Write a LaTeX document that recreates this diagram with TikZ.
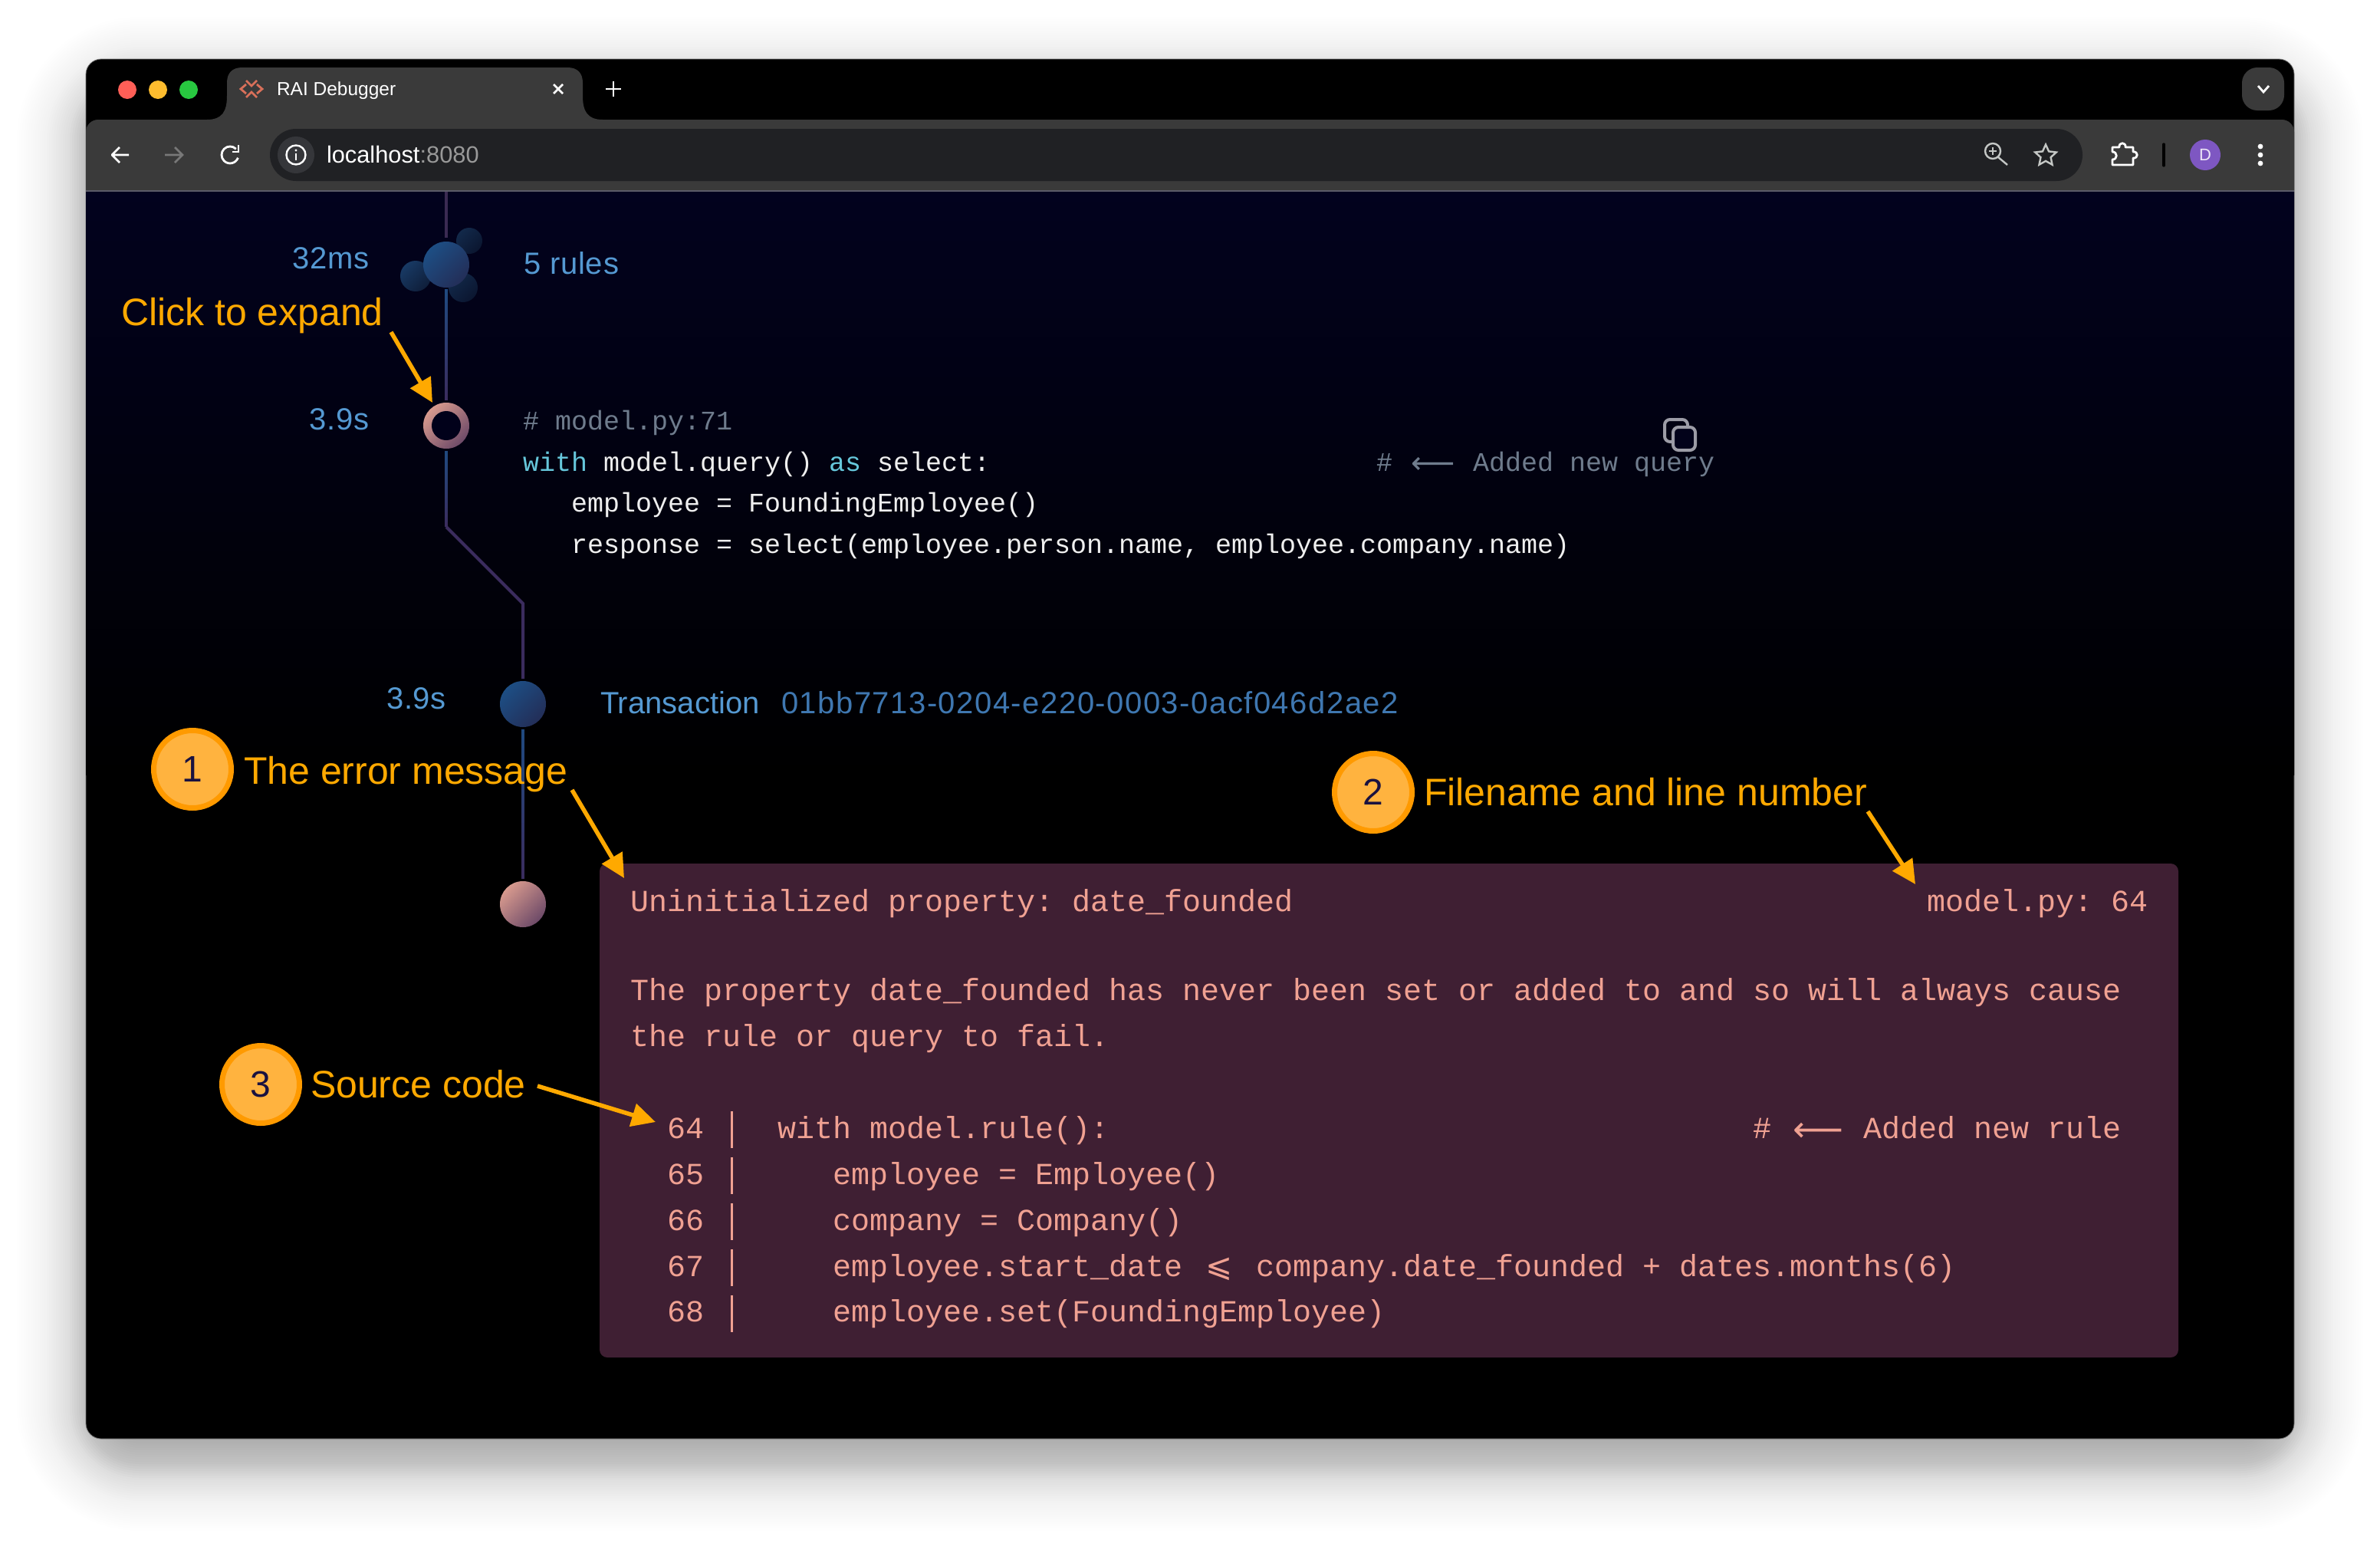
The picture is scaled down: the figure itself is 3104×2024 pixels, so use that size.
\documentclass[tikz,border=0pt]{standalone}
\usepackage{fontspec}
\setmainfont{Liberation Sans}
\setmonofont{Liberation Mono}
\newfontfamily\dvfont{DejaVu Sans}
\usetikzlibrary{arrows.meta,calc,shapes.geometric}
\definecolor{tbar}{HTML}{3A3A3A}
\definecolor{addr}{HTML}{202124}
\definecolor{infobg}{HTML}{35363A}
\definecolor{pagetop}{HTML}{02021E}
\definecolor{linepurple}{HTML}{3B2C5E}
\definecolor{linetop}{HTML}{3A2A52}
\definecolor{lineblue}{HTML}{1F4A80}
\definecolor{timeblue}{HTML}{5599D2}
\definecolor{idblue}{HTML}{3F77B0}
\definecolor{amber}{HTML}{FFA900}
\definecolor{amberrim}{HTML}{FF9A00}
\definecolor{amberfill}{HTML}{FFB33F}
\definecolor{digit}{HTML}{1A1240}
\definecolor{errbg}{HTML}{3F1F33}
\definecolor{errtext}{HTML}{F0A192}
\definecolor{kw}{HTML}{66C7DB}
\definecolor{codew}{HTML}{EFEFEF}
\definecolor{cmt}{HTML}{6F7C8D}
\definecolor{copyc}{HTML}{9C9CA6}
\definecolor{icon}{HTML}{C4C7C5}
\definecolor{fav}{HTML}{D9705A}
\definecolor{tlred}{HTML}{FF5F57}
\definecolor{tlamber}{HTML}{FEBC2E}
\definecolor{tlgreen}{HTML}{28C840}
\definecolor{avatarc}{HTML}{7E57C2}
\definecolor{divider}{HTML}{5B5B68}
\definecolor{holebg}{HTML}{01011A}
\definecolor{copybg}{HTML}{02021A}
\definecolor{satA}{HTML}{183A64}
\definecolor{satB}{HTML}{0F1E3A}
\definecolor{satC}{HTML}{12294A}
\definecolor{satD}{HTML}{0B1630}
\definecolor{blueA}{HTML}{1D4E84}
\definecolor{blueB}{HTML}{232E58}
\definecolor{pinkA}{HTML}{D89A8E}
\definecolor{pinkB}{HTML}{6D4A68}
\tikzset{
  every node/.style={inner sep=0pt,outer sep=0pt},
  uitext/.style={anchor=base west,text=white,font=\fontsize{12.25pt}{14pt}\selectfont},
  urltext/.style={anchor=base west,text=white,font=\fontsize{15.4pt}{18pt}\selectfont},
  timelabel/.style={anchor=base east,text=timeblue,font=\fontsize{20pt}{24pt}\selectfont\addfontfeature{LetterSpace=2}},
  bluelabel/.style={anchor=base west,text=timeblue,font=\fontsize{20pt}{24pt}\selectfont\addfontfeature{LetterSpace=2}},
  translabel/.style={anchor=base west,text=timeblue,font=\fontsize{20pt}{24pt}\selectfont},
  idlabel/.style={anchor=base west,text=idblue,font=\fontsize{20pt}{24pt}\selectfont\addfontfeature{LetterSpace=3.8}},
  note/.style={anchor=base west,text=amber,font=\fontsize{25pt}{30pt}\selectfont},
  callout/.style={circle,draw=amberrim,line width=3.5pt,fill=amberfill,minimum size=50.5pt,text=digit,font=\fontsize{24pt}{28pt}\selectfont},
  callarrow/.style={draw=amber,line width=2.75pt,-{Triangle[length=15.5pt,width=15pt,fill=amber]}},
  code/.style={anchor=base west,text=codew,font=\ttfamily\frenchspacing\fontsize{17.5pt}{21pt}\selectfont},
  codekw/.style={code,text=kw},
  codecmt/.style={code,text=cmt},
  arrowcmt/.style={anchor=center,text=cmt,font=\dvfont\fontsize{20pt}{24pt}\selectfont},
  err/.style={anchor=base west,text=errtext,font=\ttfamily\frenchspacing\fontsize{20pt}{24pt}\selectfont},
  errarrow/.style={anchor=center,text=errtext,font=\dvfont\fontsize{23pt}{26pt}\selectfont},
  errsym/.style={anchor=center,text=errtext,font=\dvfont\fontsize{21pt}{24pt}\selectfont},
  barline/.style={draw=errtext,line width=1.5pt},
  tl/.style={line width=2pt},
  knob/.style n args={3}{circle,minimum size=#1,left color=#2,right color=#3,shading angle=45},
  iconline/.style={draw=icon,line width=1.2pt},
  uiline/.style={draw=white,line width=1.4pt},
}
\newcommand\gradseg[4]{%
  \foreach \k in {1,...,16}{%
    \pgfmathsetmacro\pa{(\k-1)/16}%
    \pgfmathsetmacro\pb{\k/16}%
    \pgfmathsetmacro\mx{100*(\k-0.5)/16}%
    \draw[tl,color=#4!\mx!#3] ($(#1)!\pa!(#2)$) -- ($(#1)!\pb!(#2)$);
  }%
}
\begin{document}
\begin{tikzpicture}[x=0.5pt,y=-0.5pt]
\useasboundingbox (0,0) rectangle (3104,2024);
\fill[white] (0,0) rectangle (3104,2024);
% soft window shadow
\foreach \k in {0,...,40}{%
  \pgfmathsetmacro\e{90-3*\k}%
  \pgfmathsetmacro\op{\e>52 ? 0.005 : (\e>22 ? 0.0095 : (\e>0 ? 0.014 : 0.008))}%
  \pgfmathsetmacro\rr{max(10,(\e+50)*0.5+10)}%
  \fill[black,opacity=\op,rounded corners=\rr pt] (112-\e,112-\e) rectangle (2992+\e,1906+\e);
}
% window
\fill[black,rounded corners=10pt,draw=black!55,line width=0.4pt] (112,77) rectangle (2992,1876);
\fill[tbar] (112,248) [rounded corners=8pt] -- (112,156) -- (2992,156) [sharp corners] -- (2992,248) -- cycle;
% tab
\fill[tbar] (270,156) .. controls (290,156) and (296,145) .. (296,125) -- (296,108) .. controls (296,95) and (303,88) .. (316,88) -- (740,88) .. controls (753,88) and (760,95) .. (760,108) -- (760,125) .. controls (760,145) and (766,156) .. (786,156) -- cycle;
% traffic lights
\fill[tlred] (166,117) circle (12);
\fill[tlamber] (206,117) circle (12);
\fill[tlgreen] (246,117) circle (12);
% favicon
\draw[fav,line width=1.4pt] (321,105)--(328,112)--(335,105);
\draw[fav,line width=1.4pt] (321,127)--(328,120)--(335,127);
\draw[fav,line width=1.4pt] (321,110)--(314,116)--(321,122);
\draw[fav,line width=1.4pt] (335,110)--(342,116)--(335,122);
\node[uitext] (tabtitle) at (361,124) {RAI Debugger};
\draw[uiline] (722,110)--(734,122) (734,110)--(722,122);
\draw[uiline] (800,106)--(800,126) (790,116)--(810,116);
% tab list button
\fill[tbar,rounded corners=10pt] (2924,88) rectangle (2979,144);
\draw[uiline] (2945,112)--(2952,120)--(2959,112);
% navigation
\draw[uiline,line join=round] (168,202)--(146,202) (156,192)--(146,202)--(156,212);
\draw[draw=white!47!black,line width=1.4pt] (215,202)--(238,202) (228,192)--(238,202)--(228,212);
\draw[uiline] (307.8,194.2) arc[start angle=45,end angle=340,radius=5.5pt];
\draw[uiline] (311,189)--(311,198)--(303,198);
% address bar
\fill[addr,rounded corners=17pt] (352,168) rectangle (2716,236);
\fill[infobg] (386,202) circle (24);
\draw[draw=white,line width=1.2pt] (386,202) circle (12.5);
\fill[white] (386,196) circle (1.7);
\draw[draw=white,line width=1.2pt] (386,200)--(386,209);
\node[urltext] (url) at (426,212) {localhost\textcolor{white!60!black}{:8080}};
% right toolbar icons
\draw[iconline] (2599,197) circle (10);
\draw[iconline] (2606,205)--(2618,215);
\draw[iconline] (2599,192)--(2599,202) (2594,197)--(2604,197);
\node[star,star points=5,star point ratio=2.1,draw=icon,line width=1.2pt,minimum size=14.5pt] (starbtn) at (2668,203) {};
\draw[uiline,line join=round] (2755,192) -- (2764,192) .. controls (2763,185) and (2773,185) .. (2772,192) -- (2782,192) -- (2782,198) .. controls (2789,197) and (2789,207) .. (2782,206) -- (2782,215) -- (2755,215) -- (2755,208) .. controls (2762,208) and (2762,198) .. (2755,198) -- cycle;
\draw[black,line width=1.6pt,line cap=round] (2822,188)--(2822,216);
\node[circle,fill=avatarc,minimum size=20pt,text=white!85!avatarc,font=\fontsize{11pt}{13pt}\selectfont] (avatar) at (2876,202) {D};
\fill[white] (2948,191) circle (3.4) (2948,202) circle (3.4) (2948,213) circle (3.4);
% page
\shade[top color=pagetop,bottom color=black] (112,250) rectangle (2992,1010);
\draw[draw=divider,line width=1pt] (112,249)--(2992,249);
% timeline
\node[knob={20pt}{satA}{satB}] (satL) at (542,360) {};
\node[knob={17pt}{satC}{satD}] (satT) at (612,314) {};
\node[knob={19pt}{satC}{satD}] (satB) at (604,375) {};
\node[knob={30pt}{blueA}{blueB}] (clu) at (582,345) {};
\node[knob={30pt}{pinkA}{pinkB}] (ring) at (582,555) {};
\node[circle,minimum size=19pt,fill=holebg] (ringhole) at (582,555) {};
\node[knob={30pt}{blueA}{blueB}] (txn) at (682,918) {};
\node[knob={30pt}{pinkA}{pinkB}] (endn) at (682,1179) {};
\coordinate (topl) at (582,250);
\coordinate (cluN) at ($(clu.north)+(0,-5)$);
\coordinate (cluS) at ($(clu.south)+(0,2)$);
\coordinate (ringN) at ($(ring.north)+(0,-3)$);
\coordinate (ringS) at ($(ring.south)+(0,3)$);
\coordinate (bendA) at (582,687);
\coordinate (bendB) at (682,787);
\coordinate (txnN) at ($(txn.north)+(0,-3)$);
\coordinate (txnS) at ($(txn.south)+(0,3)$);
\coordinate (endN) at ($(endn.north)+(0,-3)$);
\draw[tl,color=linetop] (topl) -- (cluN);
\gradseg{cluS}{ringN}{lineblue}{linepurple}
\gradseg{ringS}{bendA}{lineblue}{linepurple}
\draw[tl,color=linepurple] (bendA) -- (bendB) -- (txnN);
\gradseg{txnS}{endN}{lineblue}{linepurple}
% timeline texts
\node[timelabel] (t32) at (482,350) {32ms};
\node[bluelabel] (rules) at (683,357) {5 rules};
\node[timelabel] (t39a) at (482,560) {3.9s};
\node[timelabel] (t39b) at (582,924) {3.9s};
\node[translabel] (trans) at (783,930) {Transaction};
\node[idlabel] (txid) at (1019,930) {01bb7713-0204-e220-0003-0acf046d2ae2};
% query code
\node[codecmt] (c0) at (682,560) {\# model.py:71};
\node[codekw] (c1a) at (682,614) {with};
\node[code] (c1b) at (787,614) {model.query()};
\node[codekw] (c1c) at (1081,614) {as};
\node[code] (c1d) at (1144,614) {select:};
\node[codecmt] (c1e) at (1795,614) {\#};
\node[arrowcmt] (c1f) at (1869,607) {⟵};
\node[codecmt] (c1g) at (1921,614) {Added new query};
\node[code] (c2) at (745,667) {employee = FoundingEmployee()};
\node[code] (c3) at (745,721) {response = select(employee.person.name, employee.company.name)};
% copy icon
\draw[copyc,line width=2pt,rounded corners=3.5pt] (2171,547) rectangle (2201,576);
\draw[copyc,fill=copybg,line width=2pt,rounded corners=3.5pt] (2182,557) rectangle (2211,587);
% error panel
\fill[errbg,rounded corners=5pt] (782,1126) rectangle (2841,1770);
\node[err] (e1) at (822,1188) {Uninitialized property: date\_founded};
\node[err,anchor=base east] (e2) at (2802,1188) {model.py: 64};
\node[err] (e3) at (822,1304) {The property date\_founded has never been set or added to and so will always cause};
\node[err] (e4) at (822,1364) {the rule or query to fail.};
\node[err] (n64) at (870,1484) {64};
\node[err] (n65) at (870,1544) {65};
\node[err] (n66) at (870,1604) {66};
\node[err] (n67) at (870,1664) {67};
\node[err] (n68) at (870,1723) {68};
\foreach \yy in {1449,1509,1569,1629,1689}{\draw[barline] (954,\yy)--(954,\yy+48);}
\node[err] (l64) at (1014,1484) {with model.rule():};
\node[err] (l64a) at (2286,1484) {\#};
\node[errarrow] (l64b) at (2371,1476) {⟵};
\node[err] (l64c) at (2430,1484) {Added new rule};
\node[err] (l65) at (1086,1544) {employee = Employee()};
\node[err] (l66) at (1086,1604) {company = Company()};
\node[err] (l67a) at (1086,1664) {employee.start\_date};
\node[errsym] (l67b) at (1590,1655) {⩽};
\node[err] (l67c) at (1638,1664) {company.date\_founded + dates.months(6)};
\node[err] (l68) at (1086,1723) {employee.set(FoundingEmployee)};
% annotations
\node[note] (clicknote) at (158,424) {Click to expand};
\node[callout] (m1) at (251,1003) {1};
\node[note] (msg1) at (318,1022) {The error message};
\node[callout] (m2) at (1791,1033) {2};
\node[note] (msg2) at (1857,1050) {Filename and line number};
\node[callout] (m3) at (340,1414) {3};
\node[note] (msg3) at (405,1431) {Source code};
\coordinate (a1s) at (510,433);
\coordinate (a1e) at (564,525);
\coordinate (a2s) at (746,1030);
\coordinate (a2e) at (814,1145);
\coordinate (a3s) at (2436,1058);
\coordinate (a3e) at (2498,1153);
\coordinate (a4s) at (701,1416);
\coordinate (a4e) at (855,1463);
\draw[callarrow] (a1s) -- (a1e);
\draw[callarrow] (a2s) -- (a2e);
\draw[callarrow] (a3s) -- (a3e);
\draw[callarrow] (a4s) -- (a4e);
\end{tikzpicture}
\end{document}
